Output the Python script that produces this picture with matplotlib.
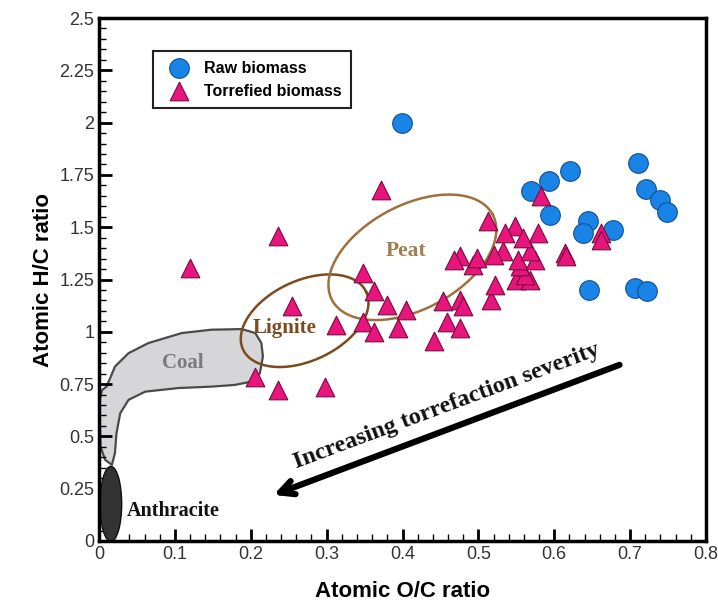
"""Van Krevelen diagram: raw vs torrefied biomass against coal ranks."""

import matplotlib
matplotlib.use("Agg")
import matplotlib.pyplot as plt
import matplotlib.patches as mp
from matplotlib.ticker import MultipleLocator, FixedLocator, FixedFormatter
import numpy as np

# -- data (O/C, H/C) --
raw_oc = [0.399, 0.570, 0.593, 0.621, 0.595, 0.644, 0.638, 0.678,
          0.711, 0.721, 0.740, 0.749, 0.646, 0.707, 0.722]
raw_hc = [2.000, 1.675, 1.722, 1.767, 1.560, 1.528, 1.472, 1.488,
          1.807, 1.683, 1.632, 1.573, 1.200, 1.209, 1.193]

torr_oc = [0.120, 0.236, 0.372, 0.254, 0.206, 0.236, 0.298, 0.313, 0.348,
           0.348, 0.362, 0.362, 0.379, 0.394, 0.405, 0.441, 0.458, 0.476,
           0.454, 0.476, 0.480, 0.517, 0.522, 0.550, 0.568, 0.561, 0.555,
           0.552, 0.574, 0.568, 0.533, 0.520, 0.493, 0.498, 0.476, 0.614,
           0.513, 0.548, 0.535, 0.559, 0.579, 0.583, 0.662, 0.662, 0.468,
           0.616]
torr_hc = [1.305, 1.456, 1.679, 1.124, 0.786, 0.722, 0.738, 1.033, 1.281,
           1.049, 1.193, 1.001, 1.129, 1.018, 1.105, 0.954, 1.049, 1.018,
           1.145, 1.153, 1.121, 1.153, 1.225, 1.249, 1.249, 1.273, 1.313,
           1.344, 1.344, 1.384, 1.384, 1.368, 1.321, 1.353, 1.360, 1.376,
           1.528, 1.504, 1.472, 1.448, 1.472, 1.647, 1.472, 1.440, 1.345,
           1.360]

x_ticks = [0, 0.1, 0.2, 0.3, 0.4, 0.5, 0.6, 0.7, 0.8]
x_labels = ["0", "0.1", "0.2", "0.3", "0.4", "0.5", "0.6", "0.7", "0.8"]
y_ticks = [0, 0.25, 0.5, 0.75, 1, 1.25, 1.5, 1.75, 2, 2.25, 2.5]
y_labels = ["0", "0.25", "0.5", "0.75", "1", "1.25", "1.5", "1.75", "2",
            "2.25", "2.5"]

# coal region outline (O/C, H/C)
coal_oc = [0.010, 0.021, 0.039, 0.065, 0.109, 0.148, 0.188, 0.206, 0.214,
           0.216, 0.212, 0.201, 0.179, 0.148, 0.104, 0.061, 0.039, 0.028,
           0.023, 0.021, 0.017, 0.008, 0.002, 0.001, 0.001, 0.004]
coal_hc = [0.738, 0.834, 0.898, 0.946, 0.994, 1.010, 1.013, 0.994, 0.946,
           0.882, 0.802, 0.762, 0.746, 0.738, 0.731, 0.714, 0.675, 0.611,
           0.515, 0.420, 0.364, 0.388, 0.451, 0.579, 0.675, 0.722]

# data -> reference-pixel scale, so tilted ellipses keep their screen shape
PX_X, PX_Y = 759.0, 209.0


def tilted_ellipse(cx, cy, a_px, b_px, angle_deg, n=200):
    t = np.linspace(0, 2 * np.pi, n)
    th = np.radians(angle_deg)
    dx = a_px * np.cos(t) * np.cos(th) - b_px * np.sin(t) * np.sin(th)
    dy = a_px * np.cos(t) * np.sin(th) + b_px * np.sin(t) * np.cos(th)
    return cx + dx / PX_X, cy + dy / PX_Y


fig = plt.figure(figsize=(7.18, 6.05), dpi=100)
ax = fig.add_axes([0.1379, 0.1058, 0.8454, 0.8644])

SERIF = ["Liberation Serif", "DejaVu Serif"]
SANS = ["Liberation Sans", "DejaVu Sans"]

# -- coal and anthracite regions --
ax.add_patch(mp.Polygon(np.column_stack([coal_oc, coal_hc]), closed=True,
                        facecolor="#d6d6d8", edgecolor="#4a4a4a", linewidth=1.6,
                        joinstyle="round", zorder=1))
ax.add_patch(mp.Ellipse((0.0156, 0.177), 0.0286, 0.359, facecolor="#333333",
                        edgecolor="#111111", linewidth=1.0, zorder=2))

# -- lignite and peat ellipses --
lx, ly = tilted_ellipse(0.271, 1.053, 68, 40, 25)
ax.plot(lx, ly, color="#7d4a1e", linewidth=1.8, zorder=3)
px, py = tilted_ellipse(0.413, 1.356, 91, 52, 28)
ax.plot(px, py, color="#a0703c", linewidth=1.8, zorder=3)

# -- region labels --
ax.text(0.111, 0.853, "Coal", family=SERIF, weight="bold", fontsize=15,
        color="#7a7a7a", ha="center", va="center", zorder=4)
ax.text(0.0365, 0.145, "Anthracite", family=SERIF, weight="bold", fontsize=14.5,
        color="#111111", ha="left", va="center", zorder=4)
ax.text(0.245, 1.018, "Lignite", family=SERIF, weight="bold", fontsize=15,
        color="#7d4a1e", ha="center", va="center", zorder=4)
ax.text(0.404, 1.384, "Peat", family=SERIF, weight="bold", fontsize=15.5,
        color="#a08050", ha="center", va="center", zorder=4)

# -- data points --
ax.scatter(raw_oc, raw_hc, s=200, marker="o", facecolor="#1a84e6",
           edgecolor="#0d4f9a", linewidth=0.8, zorder=5, label="Raw biomass")
ax.scatter(torr_oc, torr_hc, s=180, marker="^", facecolor="#e8157c",
           edgecolor="#7a0a3e", linewidth=0.8, zorder=6,
           label="Torrefied biomass")

# -- severity arrow --
ax.annotate("", xy=(0.230, 0.220), xytext=(0.686, 0.842),
            arrowprops=dict(arrowstyle="->,head_length=1.0,head_width=0.5",
                            color="black", lw=4.5, shrinkA=0, shrinkB=0),
            zorder=4)
ax.text(0.458, 0.642, "Increasing torrefaction severity", family=SERIF,
        weight="bold", fontsize=17.5, rotation=20.5, rotation_mode="anchor",
        ha="center", va="center", color="#111111", zorder=4)

# -- axes --
ax.set_xlim(0, 0.8)
ax.set_ylim(0, 2.5)
ax.xaxis.set_major_locator(FixedLocator(x_ticks))
ax.xaxis.set_major_formatter(FixedFormatter(x_labels))
ax.yaxis.set_major_locator(FixedLocator(y_ticks))
ax.yaxis.set_major_formatter(FixedFormatter(y_labels))
ax.xaxis.set_minor_locator(MultipleLocator(0.02))
ax.yaxis.set_minor_locator(MultipleLocator(0.05))
ax.tick_params(which="both", direction="in", top=False, right=False,
               labelsize=13, labelcolor="#333333")
ax.tick_params(which="major", length=9, width=2)
ax.tick_params(which="minor", length=5, width=1)
for lab in ax.get_xticklabels() + ax.get_yticklabels():
    lab.set_family(SANS)
for sp in ax.spines.values():
    sp.set_linewidth(2.5)

ax.set_xlabel("Atomic O/C ratio", family=SANS, weight="bold", fontsize=16,
              labelpad=13)
ax.set_ylabel("Atomic H/C ratio", family=SANS, weight="bold", fontsize=16,
              labelpad=4)

leg = ax.legend(loc="upper left", bbox_to_anchor=(0.089, 0.937),
                borderaxespad=0, fancybox=False, edgecolor="#222222",
                framealpha=1, prop=dict(family=SANS, weight="bold", size=11.5),
                handletextpad=0.6, borderpad=0.6, labelspacing=0.5,
                scatterpoints=1)
leg.get_frame().set_linewidth(1.5)

fig.savefig("out.png", dpi=100)
